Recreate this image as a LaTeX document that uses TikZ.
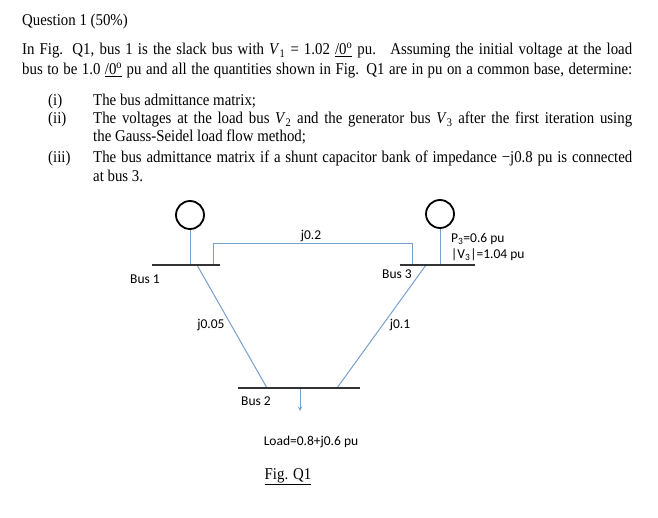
\documentclass[tikz,border=0pt]{standalone}
\usepackage{fontspec}
\setmainfont{Liberation Serif}[FakeStretch=0.9]
\newfontfamily\lab{Carlito}
\definecolor{wirec}{RGB}{120,160,205}
\begin{document}
\begin{tikzpicture}[x=1pt,y=-1pt,
  txt/.style={anchor=base west,inner sep=0pt,font=\fontsize{16.5}{18}\selectfont},
  lbl/.style={inner sep=0pt,font=\lab\fontsize{13.5}{15}\selectfont},
  wire/.style={draw=wirec,line width=1pt},
  bus/.style={draw=black!80,line width=2.4pt},
  gen/.style={draw,circle,line width=1.8pt,minimum size=28pt,inner sep=0pt}]
\useasboundingbox (0,0) rectangle (658,518);
\newcommand{\ang}{\underline{/0\textsuperscript{o}}}
\node[txt] (q) at (22,26) {Question 1 (50\%)};
\node[txt] (l1) at (22,55) {\makebox[610pt][s]{In Fig. Q1, bus 1 is the slack bus with \textit{V}\textsubscript{1} = 1.02 \ang{} pu. \ Assuming the initial voltage at the load}};
\node[txt] (l2) at (22,75) {\makebox[610pt][s]{bus to be 1.0 \ang{} pu and all the quantities shown in Fig. Q1 are in pu on a common base, determine:}};
\node[txt] (i1) at (48,106) {(i)};
\node[txt] (t1) at (93,106) {The bus admittance matrix;};
\node[txt] (i2) at (48,124) {(ii)};
\node[txt] (t2) at (93,124) {\makebox[539pt][s]{The voltages at the load bus \textit{V}\textsubscript{2} and the generator bus \textit{V}\textsubscript{3} after the first iteration using}};
\node[txt] (t2b) at (93,142) {the Gauss-Seidel load flow method;};
\node[txt] (i3) at (48,163) {(iii)};
\node[txt] (t3) at (93,163) {\makebox[539pt][s]{The bus admittance matrix if a shunt capacitor bank of impedance \textminus j0.8 pu is connected}};
\node[txt] (t3b) at (93,182) {at bus 3.};
% diagram
\node[gen] (g1) at (190,215) {};
\node[gen] (g3) at (440,214) {};
\coordinate (b1l) at (152,265); \coordinate (b1r) at (220,265);
\coordinate (b3l) at (400,265); \coordinate (b3r) at (475,265);
\coordinate (b2l) at (238,388); \coordinate (b2r) at (360,388);
\draw[wire] (g1.south) -- (g1.south |- b1l);
\draw[wire] (g3.south) -- (g3.south |- b3l);
\coordinate (a1) at (213,265); \coordinate (a3) at (412,265);
\draw[wire] (a1) -- (213,244) -- (412,244) -- (a3);
\coordinate (c1) at (197,265); \coordinate (c2) at (267,388);
\coordinate (d3) at (426,265); \coordinate (d2) at (337,388);
\draw[wire] (c1) -- (c2);
\draw[wire] (d3) -- (d2);
\coordinate (e2) at (300,388); \coordinate (e) at (300,411);
\draw[wire,-stealth] (e2) -- (e);
\draw[bus] (b1l) -- (b1r);
\draw[bus] (b3l) -- (b3r);
\draw[bus] (b2l) -- (b2r);
\node[lbl] (n1) at (145,279) {Bus 1};
\node[lbl] (n3) at (397,274) {Bus 3};
\node[lbl] (n2) at (256,401) {Bus 2};
\node[lbl] (z12) at (311,236) {j0.2};
\node[lbl] (z1) at (211,325) {j0.05};
\node[lbl] (z3) at (400,325) {j0.1};
\node[lbl,anchor=west] (p3) at (451,239) {P\textsubscript{3}=0.6 pu};
\node[lbl,anchor=west] (v3) at (451,255) {|V\textsubscript{3}|=1.04 pu};
\node[lbl] (ld) at (311,442) {Load=0.8+j0.6 pu};
\node[txt,anchor=base] (fig) at (288,479) {\underline{Fig. Q1}};
\end{tikzpicture}
\end{document}
